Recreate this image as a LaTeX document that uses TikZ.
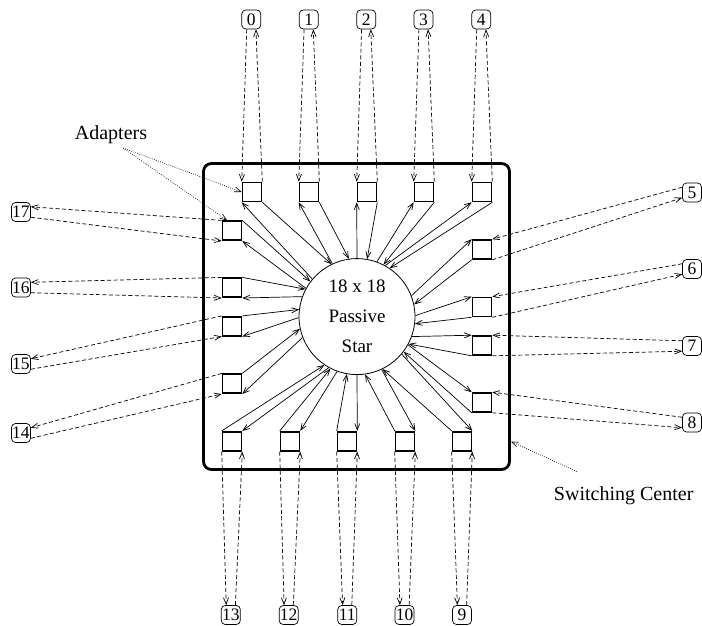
\documentclass[tikz,border=0pt]{standalone}
\usepackage{fontspec}
\setmainfont{Liberation Serif}
\usetikzlibrary{arrows.meta}
\tikzset{
  adapter/.style={draw, rectangle, minimum size=19pt, inner sep=0pt, line width=1.6pt},
  term/.style={draw, rectangle, rounded corners=4pt, minimum width=19pt, minimum height=19pt, inner sep=0pt, line width=0.7pt, font=\fontsize{17.5}{18}\selectfont},
  star/.style={draw, circle, minimum size=116pt, inner sep=0pt, line width=0.8pt, align=center, font=\fontsize{19}{30}\selectfont},
  center/.style={draw, rectangle, rounded corners=8pt, minimum width=306pt, minimum height=306pt, inner sep=0pt, line width=2.8pt},
  arr/.style={-{Straight Barb[length=6.5pt,width=5pt]}},
  sl/.style={arr, line width=0.7pt},
  dl/.style={arr, line width=0.7pt, dash pattern=on 4pt off 2.5pt},
  dt/.style={arr, line width=0.6pt, dash pattern=on 0.8pt off 1.4pt},
  lbl/.style={font=\fontsize{20}{24}\selectfont, inner sep=0pt, anchor=base}
}
\begin{document}
\begin{tikzpicture}[x=1pt,y=-1pt]
\useasboundingbox (0,0) rectangle (702,625);
% switching center and star
\node[center] (sc) at (356.5,316.5) {};
\node[star] (c) at (357,316.6) {18 x 18\\Passive\\Star};
% adapters
\foreach \i/\x/\y in {0/252/192, 1/309/192, 2/367/192, 3/424/192, 4/482/192,
  5/482/249.5, 6/482/307, 7/482/345.5, 8/482/402.5,
  9/462/441.2, 10/405/441.2, 11/347/441.2, 12/290/441.2, 13/232/441.2,
  14/232/383.7, 15/232/326.2, 16/232/287.7, 17/232/230.7}
  \node[adapter] (a\i) at (\x,\y) {};
% terminals
\foreach \i/\x/\y in {0/251.3/19.5, 1/308.7/19.5, 2/366.2/19.5, 3/423.5/19.5, 4/481.3/19.5,
  5/692/192.5, 6/692/269, 7/692/346, 8/692/422.5,
  9/462/615, 10/404.5/615, 11/347.2/615, 12/288.7/615, 13/230.8/615,
  14/21/433, 15/21/364, 16/21/287.5, 17/21/212}
  \node[term] (t\i) at (\x,\y) {\i};
% solid connectors: adapter <-> star
\foreach \i/\s/\r in {0/116/140, 1/98.5/115.4, 2/80/90, 3/63.7/70.8, 4/56.5/61.5}{
  \draw[sl] (a\i.south east) -- (c.\s);
  \draw[sl] (c.\r) -- (a\i.south west);
}
\foreach \i/\s/\r in {5/12.6/21, 6/353.6/1.5, 7/332.9/340.2, 8/323.4/331.4}{
  \draw[sl] (a\i.south west) -- (c.\s);
  \draw[sl] (c.\r) -- (a\i.north west);
}
\foreach \i/\s/\r in {9/296/320, 10/278.5/295.4, 11/260/270, 12/243.7/250.8, 13/236.5/241.5}{
  \draw[sl] (a\i.north west) -- (c.\s);
  \draw[sl] (c.\r) -- (a\i.north east);
}
\foreach \i/\s/\r in {14/192.6/201, 15/173.6/181.5, 16/152.9/160.2, 17/143.4/151.4}{
  \draw[sl] (a\i.north east) -- (c.\s);
  \draw[sl] (c.\r) -- (a\i.south east);
}
% dashed connectors: terminal <-> adapter
\foreach \i in {0,...,4}{
  \draw[dl] (t\i.245) -- (a\i.north west);
  \draw[dl] (a\i.north east) -- (t\i.295);
}
\foreach \i in {5,...,8}{
  \draw[dl] (t\i.152) -- (a\i.north east);
  \draw[dl] (a\i.south east) -- (t\i.208);
}
\foreach \i in {9,...,13}{
  \draw[dl] (a\i.south west) -- (t\i.115);
  \draw[dl] (t\i.65) -- (a\i.south east);
}
\foreach \i in {14,...,17}{
  \draw[dl] (a\i.north west) -- (t\i.28);
  \draw[dl] (t\i.332) -- (a\i.south west);
}
% labels
\node[lbl] (adl) at (111,139.3) {Adapters};
\coordinate (adp) at (123,148);
\draw[dt] (adp) -- (a0.west);
\draw[dt] (adp) -- (a17.115);
\node[lbl] (swl) at (623.7,500) {Switching Center};
\coordinate (swp) at (577,471.5);
\draw[dt] (swp) -- (sc.-39.5);
\end{tikzpicture}
\end{document}
